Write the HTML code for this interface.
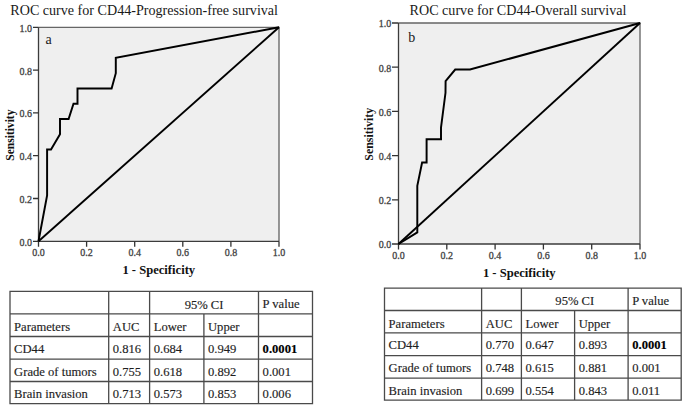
<!DOCTYPE html>
<html><head><meta charset="utf-8"><style>
html,body{margin:0;padding:0;background:#fff;}
svg{display:block;}
text{font-family:"Liberation Serif",serif;fill:#1e1e1e;}
.tk{font-size:10px;fill:#444;stroke:#444;stroke-width:0.3px;}
.ttl{font-size:14.1px;fill:#1a1a1a;}
.lab{font-size:14px;fill:#1a1a1a;}
.axt{font-size:12.6px;font-weight:bold;fill:#111;}
.ayt{font-size:11.5px;font-weight:bold;fill:#111;}
.tb{font-size:12.6px;fill:#1e1e1e;stroke:#1e1e1e;stroke-width:0.15px;}
.b{font-weight:bold;fill:#000;stroke:#000;}
</style></head><body>
<svg width="685" height="409" viewBox="0 0 685 409">
<rect width="685" height="409" fill="#fff"/>
<rect x="38.5" y="27.3" width="240.5" height="214.0" fill="#efefef"/>
<path d="M38.5 27.3H279V241.3" fill="none" stroke="#666" stroke-width="1.35"/>
<path d="M38.5 27.3V241.3H279" fill="none" stroke="#3c3c3c" stroke-width="1.3"/>
<path d="M33.0 241.30H38.5M38.50 241.3V246.8M33.0 198.50H38.5M86.60 241.3V246.8M33.0 155.70H38.5M134.70 241.3V246.8M33.0 112.90H38.5M182.80 241.3V246.8M33.0 70.10H38.5M230.90 241.3V246.8M33.0 27.30H38.5M279.00 241.3V246.8" stroke="#333" stroke-width="1.3" fill="none"/>
<text x="32.0" y="245.70" text-anchor="end" class="tk">0.0</text>
<text x="38.50" y="255.6" text-anchor="middle" class="tk">0.0</text>
<text x="32.0" y="202.90" text-anchor="end" class="tk">0.2</text>
<text x="86.60" y="255.6" text-anchor="middle" class="tk">0.2</text>
<text x="32.0" y="160.10" text-anchor="end" class="tk">0.4</text>
<text x="134.70" y="255.6" text-anchor="middle" class="tk">0.4</text>
<text x="32.0" y="117.30" text-anchor="end" class="tk">0.6</text>
<text x="182.80" y="255.6" text-anchor="middle" class="tk">0.6</text>
<text x="32.0" y="74.50" text-anchor="end" class="tk">0.8</text>
<text x="230.90" y="255.6" text-anchor="middle" class="tk">0.8</text>
<text x="32.0" y="31.70" text-anchor="end" class="tk">1.0</text>
<text x="279.00" y="255.6" text-anchor="middle" class="tk">1.0</text>
<path d="M38.5 241.3L279 27.3" stroke="#000" stroke-width="1.9" fill="none"/>
<path d="M38.50 241.30 L47.10 195.44 L47.10 149.59 L51.00 149.59 L60.00 134.30 L60.00 119.01 L68.60 119.01 L73.50 103.73 L77.50 103.73 L77.50 88.44 L111.60 88.44 L115.80 73.16 L115.80 57.87 L279.00 27.30" stroke="#000" stroke-width="1.95" fill="none" stroke-linejoin="miter"/>
<text x="45.4" y="43.6" class="lab">a</text>
<text x="10.3" y="14.6" class="ttl">ROC curve for CD44-Progression-free survival</text>
<text x="158.75" y="273.7" text-anchor="middle" class="axt">1 - Specificity</text>
<text transform="translate(13.6 135.10000000000002) rotate(-90) scale(1 1)" text-anchor="middle" class="ayt">Sensitivity</text>
<rect x="398.5" y="23" width="241.5" height="221" fill="#efefef"/>
<path d="M398.5 23H640V244" fill="none" stroke="#666" stroke-width="1.35"/>
<path d="M398.5 23V244H640" fill="none" stroke="#3c3c3c" stroke-width="1.3"/>
<path d="M392.0 244.00H398.5M398.50 244V249.5M392.0 199.80H398.5M446.80 244V249.5M392.0 155.60H398.5M495.10 244V249.5M392.0 111.40H398.5M543.40 244V249.5M392.0 67.20H398.5M591.70 244V249.5M392.0 23.00H398.5M640.00 244V249.5" stroke="#333" stroke-width="1.3" fill="none"/>
<text x="391.3" y="248.40" text-anchor="end" class="tk">0.0</text>
<text x="398.50" y="258.8" text-anchor="middle" class="tk">0.0</text>
<text x="391.3" y="204.20" text-anchor="end" class="tk">0.2</text>
<text x="446.80" y="258.8" text-anchor="middle" class="tk">0.2</text>
<text x="391.3" y="160.00" text-anchor="end" class="tk">0.4</text>
<text x="495.10" y="258.8" text-anchor="middle" class="tk">0.4</text>
<text x="391.3" y="115.80" text-anchor="end" class="tk">0.6</text>
<text x="543.40" y="258.8" text-anchor="middle" class="tk">0.6</text>
<text x="391.3" y="71.60" text-anchor="end" class="tk">0.8</text>
<text x="591.70" y="258.8" text-anchor="middle" class="tk">0.8</text>
<text x="391.3" y="27.40" text-anchor="end" class="tk">1.0</text>
<text x="640.00" y="258.8" text-anchor="middle" class="tk">1.0</text>
<path d="M398.5 244L640 23" stroke="#000" stroke-width="1.9" fill="none"/>
<path d="M398.50 244.00 L417.30 232.37 L417.30 185.84 L422.10 162.58 L426.60 162.58 L426.60 139.32 L441.00 139.32 L441.00 127.68 L445.50 92.79 L445.60 81.16 L455.20 69.53 L470.00 69.53 L640.00 23.00" stroke="#000" stroke-width="1.95" fill="none" stroke-linejoin="miter"/>
<text x="408.2" y="41.8" class="lab">b</text>
<text x="409.6" y="14.6" class="ttl">ROC curve for CD44-Overall survival</text>
<text x="519.25" y="277.2" text-anchor="middle" class="axt">1 - Specificity</text>
<text transform="translate(372.5 134.3) rotate(-90) scale(1.035 1)" text-anchor="middle" class="ayt">Sensitivity</text>
<path d="M10 291.3H312.5M10 313.9H312.5M10 336.5H312.5M10 359.1H312.5M10 381.5H312.5M10 403.6H312.5M10 291.3V403.6M108.7 291.3V403.6M149.6 291.3V403.6M203.9 313.9V403.6M258.5 291.3V403.6M312.5 291.3V403.6" stroke="#4a4a4a" stroke-width="1.3" stroke-linecap="square" fill="none"/>
<text x="204.05" y="308.50" text-anchor="middle" class="tb">95% CI</text>
<text x="262.60" y="308.40" class="tb">P value</text>
<text x="14.10" y="331.00" class="tb">Parameters</text>
<text x="112.80" y="331.00" class="tb">AUC</text>
<text x="153.70" y="331.00" class="tb">Lower</text>
<text x="208.00" y="331.00" class="tb">Upper</text>
<text x="14.10" y="352.90" class="tb">CD44</text>
<text x="112.80" y="352.90" class="tb">0.816</text>
<text x="153.70" y="352.90" class="tb">0.684</text>
<text x="208.00" y="352.90" class="tb">0.949</text>
<text x="262.60" y="352.90" class="tb b">0.0001</text>
<text x="14.10" y="375.50" class="tb">Grade of tumors</text>
<text x="112.80" y="375.50" class="tb">0.755</text>
<text x="153.70" y="375.50" class="tb">0.618</text>
<text x="208.00" y="375.50" class="tb">0.892</text>
<text x="262.60" y="375.50" class="tb">0.001</text>
<text x="14.10" y="397.90" class="tb">Brain invasion</text>
<text x="112.80" y="397.90" class="tb">0.713</text>
<text x="153.70" y="397.90" class="tb">0.573</text>
<text x="208.00" y="397.90" class="tb">0.853</text>
<text x="262.60" y="397.90" class="tb">0.006</text>
<path d="M384.5 288.2H681.2M384.5 310.5H681.2M384.5 332.9H681.2M384.5 355.7H681.2M384.5 378.1H681.2M384.5 400.2H681.2M384.5 288.2V400.2M481.6 288.2V400.2M521.4 288.2V400.2M574.6 310.5V400.2M628.1 288.2V400.2M681.2 288.2V400.2" stroke="#4a4a4a" stroke-width="1.3" stroke-linecap="square" fill="none"/>
<text x="574.75" y="305.40" text-anchor="middle" class="tb">95% CI</text>
<text x="632.20" y="305.30" class="tb">P value</text>
<text x="388.60" y="327.60" class="tb">Parameters</text>
<text x="485.70" y="327.60" class="tb">AUC</text>
<text x="525.50" y="327.60" class="tb">Lower</text>
<text x="578.70" y="327.60" class="tb">Upper</text>
<text x="388.60" y="349.30" class="tb">CD44</text>
<text x="485.70" y="349.30" class="tb">0.770</text>
<text x="525.50" y="349.30" class="tb">0.647</text>
<text x="578.70" y="349.30" class="tb">0.893</text>
<text x="632.20" y="349.30" class="tb b">0.0001</text>
<text x="388.60" y="372.10" class="tb">Grade of tumors</text>
<text x="485.70" y="372.10" class="tb">0.748</text>
<text x="525.50" y="372.10" class="tb">0.615</text>
<text x="578.70" y="372.10" class="tb">0.881</text>
<text x="632.20" y="372.10" class="tb">0.001</text>
<text x="388.60" y="394.50" class="tb">Brain invasion</text>
<text x="485.70" y="394.50" class="tb">0.699</text>
<text x="525.50" y="394.50" class="tb">0.554</text>
<text x="578.70" y="394.50" class="tb">0.843</text>
<text x="632.20" y="394.50" class="tb">0.011</text>
</svg>
</body></html>
